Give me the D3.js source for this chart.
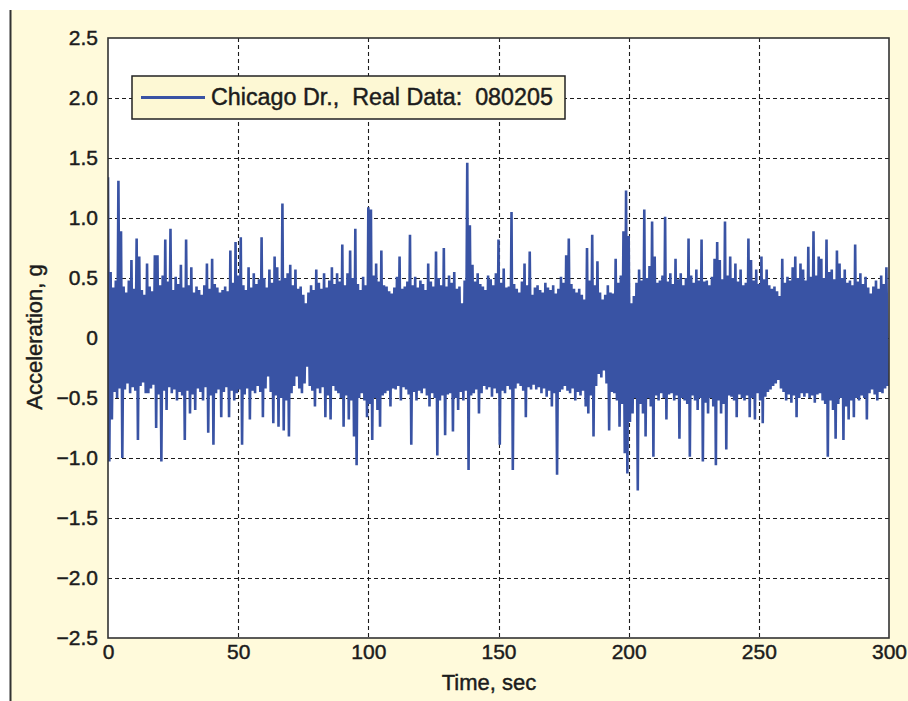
<!DOCTYPE html>
<html><head><meta charset="utf-8">
<script src="https://cdn.jsdelivr.net/npm/d3@7/dist/d3.min.js"></script>
<style>
html,body{margin:0;padding:0;background:#fff;}
svg{display:block;font-family:"Liberation Sans",Arial,Helvetica,sans-serif;}
</style></head><body>
<svg id="chart" width="908" height="701"></svg>
<script>
// ---- data ----
const title = "Chicago Dr.,  Real Data:  080205";
const xLabel = "Time, sec";
const yLabel = "Acceleration, g";
const xTicks = [0, 50, 100, 150, 200, 250, 300];
const yTicks = [-2.5, -2.0, -1.5, -1.0, -0.5, 0, 0.5, 1.0, 1.5, 2.0, 2.5];
const sampleStep = 1; // seconds per upper/lower pair
// upper swing of the signal, one per second (g)
const upperPeaks = [
 1.34,0.55,0.42,0.48,1.31,0.89,0.43,0.38,0.48,0.65,
 0.41,0.83,0.68,0.40,0.36,0.62,0.43,0.39,0.69,0.69,
 0.44,0.52,0.82,0.47,0.91,0.40,0.51,0.45,0.61,0.42,
 0.82,0.44,0.59,0.38,0.43,0.40,0.36,0.44,0.62,0.41,
 0.66,0.45,0.42,0.38,0.40,0.43,0.39,0.73,0.46,0.80,
 0.52,0.84,0.44,0.40,0.59,0.42,0.54,0.45,0.49,0.84,
 0.50,0.42,0.57,0.46,0.68,0.59,0.48,1.12,0.50,0.54,
 0.61,0.44,0.57,0.41,0.43,0.36,0.29,0.38,0.44,0.40,
 0.57,0.46,0.41,0.54,0.42,0.48,0.59,0.45,0.54,0.47,
 0.78,0.44,0.54,0.73,0.50,0.91,0.45,0.40,0.51,0.44,
 1.09,1.07,0.52,0.62,0.47,0.73,0.44,0.43,0.39,0.37,
 0.42,0.51,0.68,0.41,0.43,0.47,0.86,0.44,0.51,0.42,
 0.48,0.45,0.40,0.62,0.47,0.43,0.72,0.50,0.44,0.75,
 0.43,0.52,0.46,0.55,0.41,0.43,0.29,0.48,1.46,0.94,
 0.61,0.47,0.54,0.45,0.43,0.40,0.52,0.49,0.44,0.54,
 0.82,0.46,0.58,0.42,0.43,1.05,0.45,0.41,0.38,0.47,
 0.62,0.44,0.72,0.36,0.42,0.44,0.40,0.38,0.46,0.42,
 0.40,0.44,0.37,0.41,0.51,0.46,0.69,0.83,0.45,0.41,
 0.38,0.41,0.36,0.32,0.75,0.48,0.86,0.44,0.64,0.38,
 0.32,0.36,0.44,0.38,0.37,0.66,0.46,0.52,0.89,1.23,
 0.85,0.29,0.35,0.46,0.57,0.48,1.07,0.50,0.60,0.97,
 0.68,0.46,0.48,0.52,1.01,0.47,0.54,0.45,0.66,0.49,
 0.54,0.44,0.50,0.83,0.52,0.46,0.57,0.48,0.82,0.47,
 0.48,0.44,0.51,0.66,0.80,0.65,0.49,0.97,0.52,0.68,
 0.50,0.62,0.47,0.57,0.44,0.46,0.83,0.65,0.48,0.57,
 0.45,0.68,0.49,0.57,0.44,0.41,0.43,0.39,0.35,0.66,
 0.46,0.51,0.48,0.59,0.68,0.50,0.62,0.57,0.48,0.76,
 0.51,0.89,0.52,0.68,0.66,0.50,0.82,0.55,0.57,0.49,
 0.73,0.62,0.50,0.57,0.46,0.48,0.44,0.78,0.47,0.54,
 0.45,0.51,0.42,0.37,0.43,0.48,0.41,0.52,0.45,0.59
];
// lower swing of the signal, one per second (g)
const lowerPeaks = [
 -1.03,-0.68,-0.45,-0.50,-0.42,-1.00,-0.43,-0.38,-0.46,-0.41,
 -0.44,-0.85,-0.40,-0.37,-0.46,-0.46,-0.42,-0.39,-0.75,-0.47,
 -1.03,-0.44,-0.60,-0.41,-0.46,-0.43,-0.52,-0.45,-0.48,-0.85,
 -0.44,-0.63,-0.47,-0.60,-0.42,-0.45,-0.52,-0.41,-0.79,-0.48,
 -0.89,-0.46,-0.43,-0.66,-0.45,-0.41,-0.66,-0.44,-0.52,-0.46,
 -0.43,-0.89,-0.47,-0.42,-0.68,-0.44,-0.46,-0.40,-0.45,-0.66,
 -0.42,-0.32,-0.45,-0.71,-0.48,-0.74,-0.50,-0.77,-0.52,-0.82,
 -0.46,-0.40,-0.32,-0.42,-0.46,-0.38,-0.24,-0.40,-0.44,-0.57,
 -0.42,-0.46,-0.41,-0.66,-0.48,-0.68,-0.40,-0.44,-0.46,-0.50,
 -0.74,-0.48,-0.68,-0.52,-0.82,-1.06,-0.50,-0.46,-0.52,-0.66,
 -0.55,-0.85,-0.50,-0.60,-0.74,-0.48,-0.46,-0.44,-0.57,-0.42,
 -0.43,-0.40,-0.52,-0.41,-0.43,-0.47,-0.89,-0.45,-0.52,-0.44,
 -0.46,-0.42,-0.48,-0.57,-0.46,-0.50,-0.98,-0.52,-0.48,-0.81,
 -0.47,-0.46,-0.78,-0.50,-0.60,-0.45,-0.52,-0.44,-1.10,-0.48,
 -0.46,-0.43,-0.63,-0.46,-0.40,-0.43,-0.41,-0.49,-0.42,-0.46,
 -0.89,-0.44,-0.46,-0.40,-0.43,-1.10,-0.42,-0.38,-0.40,-0.44,
 -0.66,-0.41,-0.43,-0.39,-0.43,-0.41,-0.46,-0.42,-0.49,-0.44,
 -0.57,-0.46,-1.14,-0.45,-0.43,-0.40,-0.44,-0.46,-0.42,-0.52,
 -0.45,-0.48,-0.44,-0.57,-0.63,-0.48,-0.82,-0.40,-0.30,-0.33,
 -0.27,-0.38,-0.77,-0.45,-0.46,-0.52,-0.74,-0.55,-0.96,-1.13,
 -0.70,-0.63,-0.50,-1.27,-0.55,-0.63,-0.82,-0.50,-0.57,-0.99,
 -0.48,-0.52,-0.46,-0.50,-0.68,-0.47,-0.46,-0.52,-0.48,-0.84,
 -0.50,-0.52,-0.55,-0.99,-0.48,-0.52,-0.60,-0.50,-1.03,-0.54,
 -0.63,-0.50,-0.57,-1.06,-0.52,-0.63,-0.55,-0.93,-0.48,-0.49,
 -0.52,-0.66,-0.47,-0.50,-0.52,-0.48,-0.66,-0.50,-0.68,-0.46,
 -0.52,-0.71,-0.49,-0.45,-0.43,-0.40,-0.38,-0.35,-0.42,-0.45,
 -0.52,-0.47,-0.54,-0.48,-0.66,-0.50,-0.46,-0.49,-0.46,-0.50,
 -0.48,-0.54,-0.47,-0.46,-0.52,-0.55,-0.99,-0.52,-0.60,-0.84,
 -0.55,-0.50,-0.85,-0.57,-0.68,-0.52,-0.66,-0.50,-0.52,-0.48,
 -0.50,-0.68,-0.46,-0.43,-0.47,-0.52,-0.45,-0.46,-0.42,-0.40
];

// ---- drawing ----
const svg = d3.select("#chart");
const W = 908, H = 701;
const M = {left:108, right:889, top:38, bottom:638};
const blue = "#3953a4";
const ink = "#1c1c1c";
const font = "'Liberation Sans',Arial,Helvetica,sans-serif";

// cream panel with left rule
svg.append("rect").attr("x",10).attr("y",10).attr("width",W-10).attr("height",H-10).attr("fill","#fffadb");
svg.append("line").attr("x1",10.5).attr("x2",10.5).attr("y1",10).attr("y2",H).attr("stroke","#333").attr("stroke-width",2);

const x = d3.scaleLinear().domain([0,300]).range([M.left,M.right]);
const y = d3.scaleLinear().domain([-2.5,2.5]).range([M.bottom,M.top]);

svg.append("rect").attr("x",M.left).attr("y",M.top).attr("width",M.right-M.left).attr("height",M.bottom-M.top).attr("fill","#fff");

// grid
const grid = svg.append("g").attr("stroke",ink).attr("stroke-width",1.1).attr("stroke-dasharray","4,3");
grid.selectAll(".vg").data(xTicks.filter(d=>d>0&&d<300)).join("line")
  .attr("x1",d=>Math.round(x(d))+0.5).attr("x2",d=>Math.round(x(d))+0.5).attr("y1",M.top).attr("y2",M.bottom);
grid.selectAll(".hg").data(yTicks.filter(d=>d>-2.5&&d<2.5)).join("line")
  .attr("y1",d=>Math.round(y(d))+0.5).attr("y2",d=>Math.round(y(d))+0.5).attr("x1",M.left).attr("x2",M.right);

// signal: alternate upper and lower swings
const pts = [];
upperPeaks.forEach((u,i)=>{
  pts.push([i*sampleStep, u]);
  pts.push([i*sampleStep + sampleStep/2, lowerPeaks[i]]);
});
const line = d3.line().x(d=>x(d[0])).y(d=>y(d[1]));
svg.append("defs").append("clipPath").attr("id","clip").append("rect")
  .attr("x",M.left).attr("y",M.top).attr("width",M.right-M.left).attr("height",M.bottom-M.top);
svg.append("path").datum(pts).attr("d",line).attr("fill","none")
  .attr("stroke",blue).attr("stroke-width",2.6).attr("stroke-linejoin","bevel").attr("clip-path","url(#clip)");

// frame
svg.append("rect").attr("x",M.left).attr("y",M.top).attr("width",M.right-M.left).attr("height",M.bottom-M.top)
  .attr("fill","none").attr("stroke","#333").attr("stroke-width",1.6);

function styleText(sel, size){
  sel.attr("font-size",size).attr("fill",ink).attr("font-family",font)
     .attr("stroke",ink).attr("stroke-width",0.45);
}

// axes (labels only, MATLAB style)
const fmtY = d => (d<0?"\u2212":"") + (d===0?"0":Math.abs(d).toFixed(1));
const yAxis = d3.axisLeft(y).tickValues(yTicks).tickFormat(fmtY).tickSize(0).tickPadding(10);
const gy = svg.append("g").attr("transform",`translate(${M.left},0)`).call(yAxis);
gy.select(".domain").remove();
styleText(gy.selectAll("text"), 21);
const xAxis = d3.axisBottom(x).tickValues(xTicks).tickFormat(d3.format("d")).tickSize(0).tickPadding(6);
const gx = svg.append("g").attr("transform",`translate(0,${M.bottom})`).call(xAxis);
gx.select(".domain").remove();
styleText(gx.selectAll("text"), 21);

// axis titles
styleText(svg.append("text").attr("x",489).attr("y",690).attr("text-anchor","middle").text(xLabel), 22);
styleText(svg.append("text").attr("transform",`translate(42,337) rotate(-90)`).attr("text-anchor","middle").text(yLabel), 22);

// legend
const lg = svg.append("g");
lg.append("rect").attr("x",132).attr("y",76).attr("width",433).attr("height",43)
  .attr("fill","#fdf8d4").attr("stroke","#222").attr("stroke-width",1.5);
lg.append("line").attr("x1",141).attr("x2",205).attr("y1",97.5).attr("y2",97.5).attr("stroke",blue).attr("stroke-width",3);
styleText(lg.append("text").attr("x",211).attr("y",105).style("white-space","pre").text(title), 23.3);
</script>
</body></html>
